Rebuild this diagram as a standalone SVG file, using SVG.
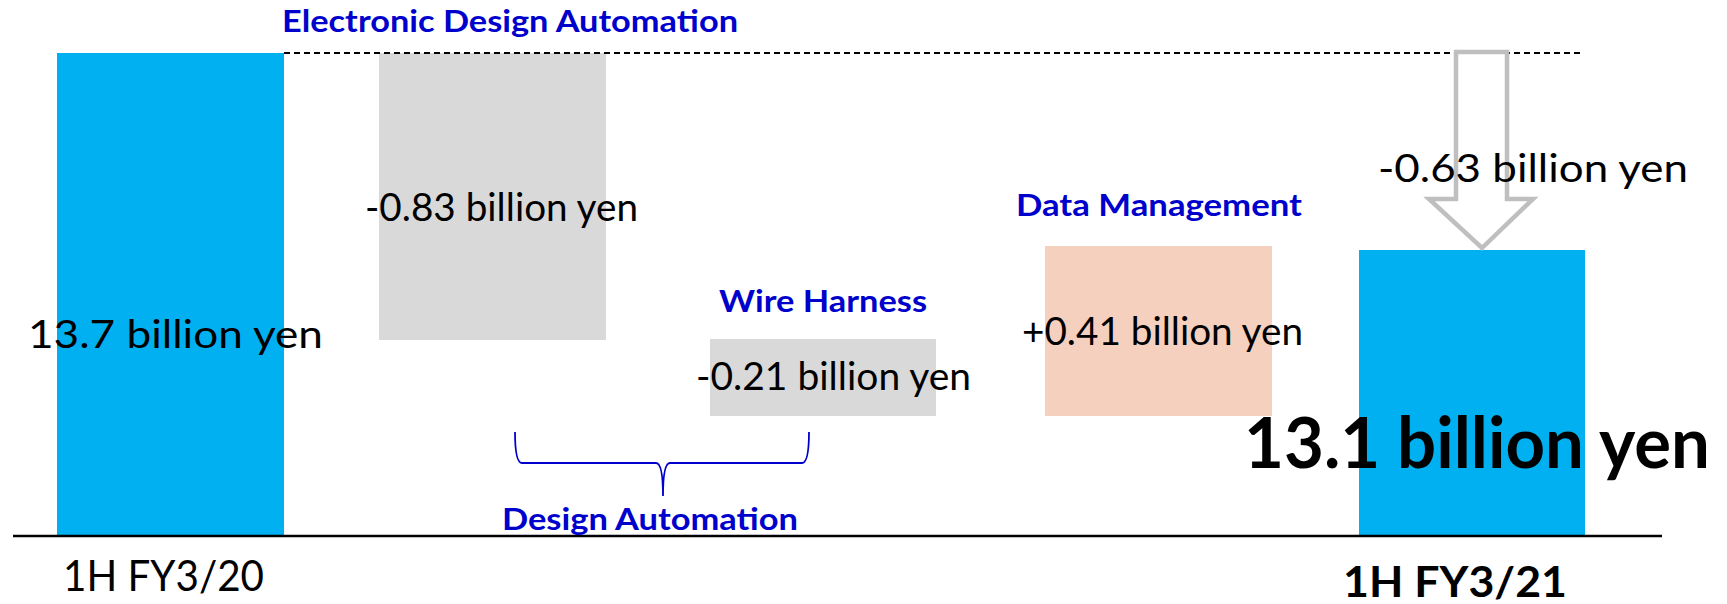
<svg xmlns="http://www.w3.org/2000/svg" width="1727" height="604" viewBox="0 0 1727 604">
<style>
.val{font-family:Lato,"Liberation Sans",sans-serif;font-size:38px;fill:#000}
.cat{font-family:Lato,"Liberation Sans",sans-serif;font-size:31px;font-weight:bold;fill:#0000CC}
.big{font-family:Lato,"Liberation Sans",sans-serif;font-size:71px;font-weight:bold;fill:#000}
.ax{font-family:Lato,"Liberation Sans",sans-serif;font-size:42px;fill:#000}
</style>
<rect width="1727" height="604" fill="#fff"/>
<g id="bar-fy20"><rect x="57" y="53" width="227" height="482" fill="#00B0F0"/></g>
<g id="bar-eda"><rect x="379" y="53" width="227" height="287" fill="#D9D9D9"/></g>
<g id="bar-wire"><rect x="710" y="339" width="226" height="77" fill="#D9D9D9"/></g>
<g id="bar-data"><rect x="1045" y="246" width="227" height="170" fill="#F5D0BF"/></g>
<g id="bar-fy21"><rect x="1359" y="250" width="226" height="285" fill="#00B0F0"/></g>
<g id="connectors">
<line x1="284" y1="53" x2="1581" y2="53" stroke="#000" stroke-width="1.8" stroke-dasharray="6,4"/>
<line x1="13" y1="536" x2="1662" y2="536" stroke="#000" stroke-width="2.5"/>
<path d="M1456,52 H1507 V199 H1533 L1482,248 L1429,199 H1456 Z" fill="none" stroke="#BFBFBF" stroke-width="4.5"/>
<path d="M515,432 Q515,463 522,463 H656 Q663,463 663,496 Q663,463 670,463 H802 Q809,463 809,432" fill="none" stroke="#0000CC" stroke-width="1.8"/>
</g>
<g id="labels">
<text class="cat" x="282" y="32" textLength="456" lengthAdjust="spacingAndGlyphs">Electronic Design Automation</text>
<text class="val" x="365" y="221" textLength="273" lengthAdjust="spacingAndGlyphs">-0.83 billion yen</text>
<text class="val" x="28" y="348" textLength="295" lengthAdjust="spacingAndGlyphs">13.7 billion yen</text>
<text class="cat" x="719" y="312" textLength="208" lengthAdjust="spacingAndGlyphs">Wire Harness</text>
<text class="val" x="696" y="390" textLength="275" lengthAdjust="spacingAndGlyphs">-0.21 billion yen</text>
<text class="cat" x="1016" y="216" textLength="286" lengthAdjust="spacingAndGlyphs">Data Management</text>
<text class="val" x="1022" y="345" textLength="281" lengthAdjust="spacingAndGlyphs">+0.41 billion yen</text>
<text class="val" x="1378" y="182" textLength="310" lengthAdjust="spacingAndGlyphs">-0.63 billion yen</text>
<text class="big" x="1244" y="468" textLength="466" lengthAdjust="spacingAndGlyphs">13.1 billion yen</text>
<text class="cat" x="502" y="530" textLength="296" lengthAdjust="spacingAndGlyphs">Design Automation</text>
<text class="ax" x="63" y="591" textLength="201" lengthAdjust="spacingAndGlyphs">1H FY3/20</text>
<text class="ax" x="1343" y="597" font-weight="bold" textLength="224" lengthAdjust="spacingAndGlyphs">1H FY3/21</text>
</g>
</svg>
